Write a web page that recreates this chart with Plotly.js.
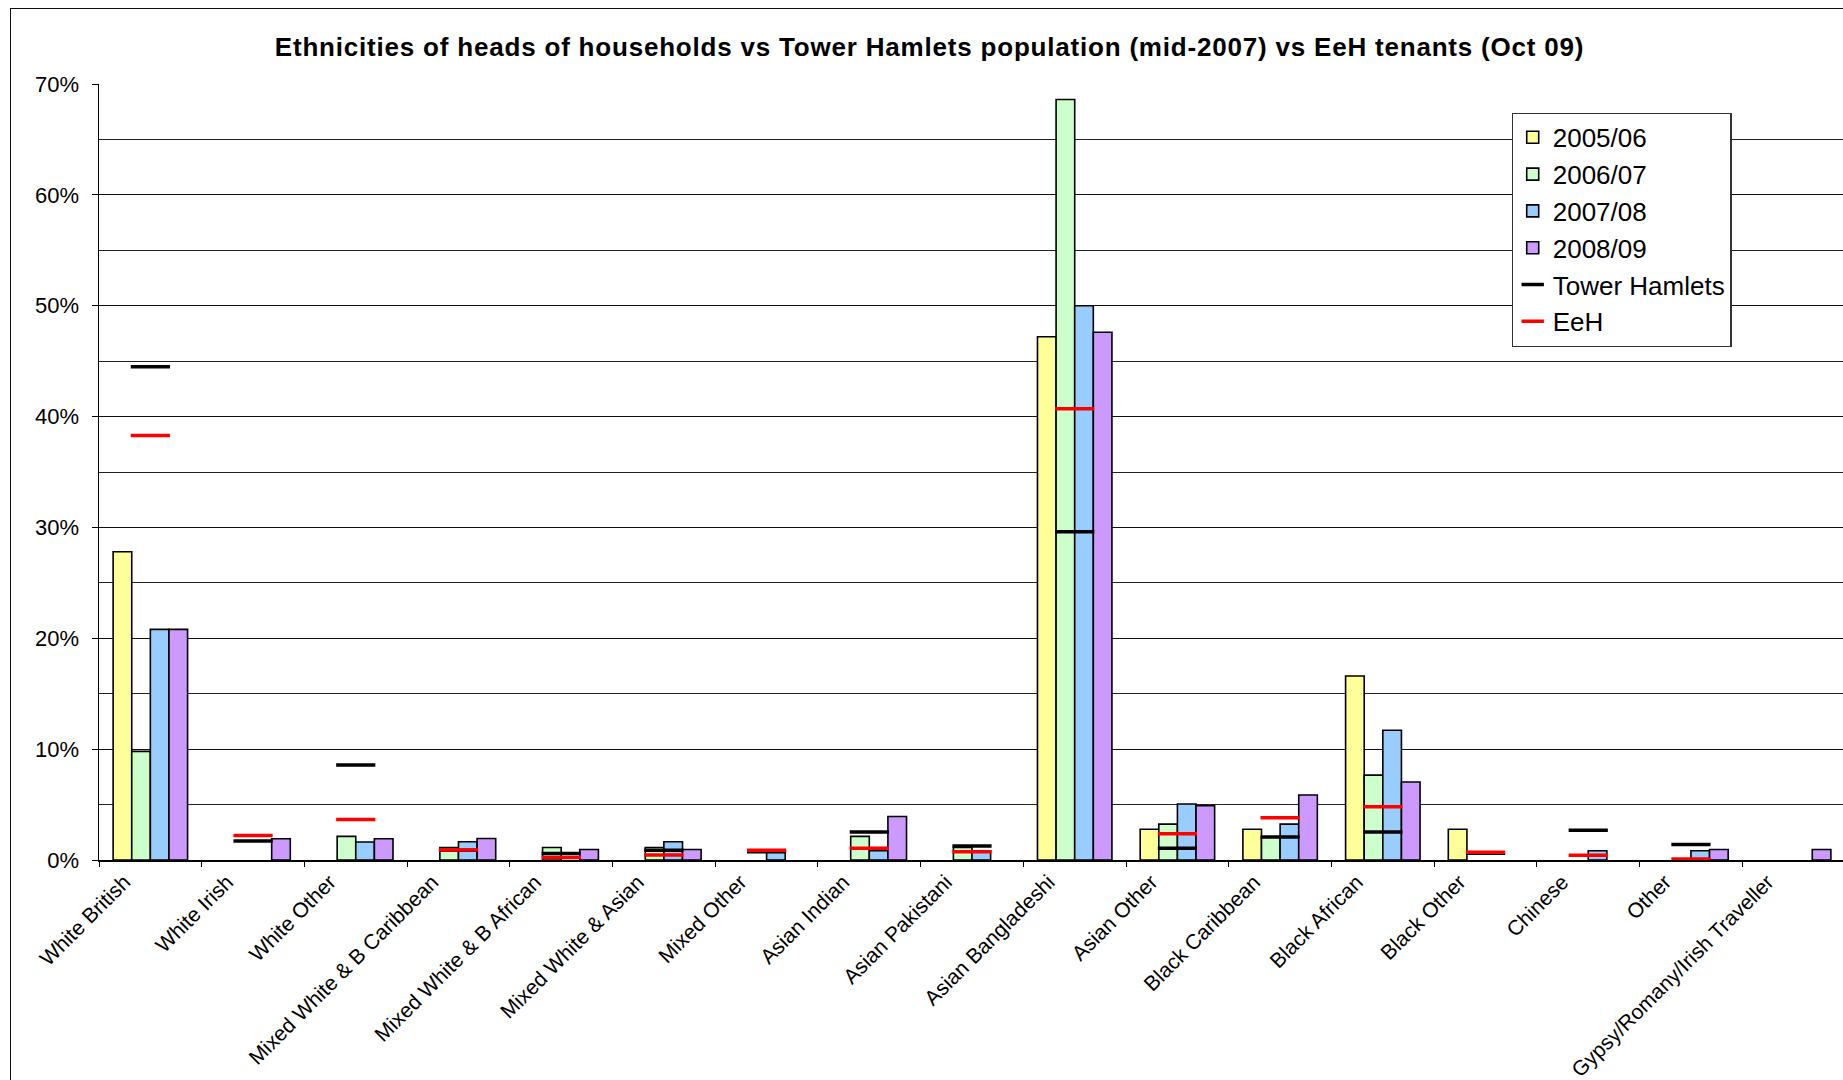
<!DOCTYPE html>
<html>
<head>
<meta charset="utf-8">
<script src="https://cdn.plot.ly/plotly-3.0.1.min.js"></script>
<style>
  html, body { margin: 0; padding: 0; background: #fff; overflow: hidden; width: 1843px; height: 1080px; }
  #wrap { position: absolute; left: 10px; top: 8px; width: 1900px; height: 1150px; border-left: 1.5px solid #111; border-top: 1.5px solid #111; box-sizing: border-box; }
  #chart { position: absolute; left: 0; top: 0; }
  #chart .gtitle { letter-spacing: 0.8px; }
</style>
</head>
<body>
<div id="wrap"><div id="chart"></div></div>
<script>
// Categories (x axis)
const categories = [
  "White British", "White Irish", "White Other", "Mixed White & B Caribbean",
  "Mixed White & B African", "Mixed White & Asian", "Mixed Other", "Asian Indian",
  "Asian Pakistani", "Asian Bangladeshi", "Asian Other", "Black Caribbean",
  "Black African", "Black Other", "Chinese", "Other", "Gypsy/Romany/Irish Traveller"
];

// Series values in percent (null = no bar)
const y2005_06 = [27.8, null, null, null, null, null, null, null, null, 47.2, 2.77, 2.77, 16.6, 2.78, null, null, null];
const y2006_07 = [9.8, null, 2.13, 1.13, 1.13, 1.13, null, 2.13, 1.13, 68.6, 3.24, 2.05, 7.66, null, null, null, null];
const y2007_08 = [20.8, null, 1.62, 1.64, null, 1.64, 0.83, 0.83, 0.83, 50.0, 5.05, 3.24, 11.7, null, 0.83, 0.83, null];
const y2008_09 = [20.8, 1.92, 1.92, 1.94, 0.95, 0.95, null, 3.93, null, 47.6, 4.9, 5.86, 7.03, null, null, 0.95, 0.95];
const towerHamlets = [44.5, 1.71, 8.56, 0.88, 0.59, 0.89, 0.75, 2.52, 1.26, 29.6, 1.05, 2.07, 2.52, 0.6, 2.69, 1.4, null];
const eeh = [38.3, 2.2, 3.66, 0.9, 0.23, 0.45, 0.87, 1.05, 0.75, 40.7, 2.37, 3.81, 4.8, 0.7, 0.43, 0.1, null];

const seriesNames = ["2005/06", "2006/07", "2007/08", "2008/09"];
const seriesValues = [y2005_06, y2006_07, y2007_08, y2008_09];
const seriesColors = ["#FFFF99", "#CCFFCC", "#99CCFF", "#CC99FF"];

const FONT = "Arial, 'Liberation Sans', sans-serif";

const traces = seriesNames.map((name, i) => ({
  type: "bar",
  name: name,
  x: categories,
  y: seriesValues[i],
  marker: { color: seriesColors[i], line: { color: "#000", width: 1.6 } },
  hoverinfo: "x+y+name"
}));

traces.push({
  type: "scatter", mode: "markers", name: "Tower Hamlets",
  x: categories, y: towerHamlets, cliponaxis: false,
  marker: { symbol: "line-ew", size: 28, color: "#000", line: { color: "#000", width: 3.5 } }
});
traces.push({
  type: "scatter", mode: "markers", name: "EeH",
  x: categories, y: eeh, cliponaxis: false,
  marker: { symbol: "line-ew", size: 28, color: "#FF0000", line: { color: "#FF0000", width: 3.5 } }
});

const layout = {
  width: 1874,
  height: 1100,
  margin: { l: 88, r: 40, t: 75, b: 249 },
  paper_bgcolor: "#fff",
  plot_bgcolor: "#fff",
  font: { family: FONT, color: "#000" },
  title: {
    text: "Ethnicities of heads of households vs Tower Hamlets population (mid-2007) vs EeH tenants (Oct 09)",
    font: { family: FONT, size: 26, weight: "bold", color: "#000" },
    xref: "paper", x: 0.4757, xanchor: "center",
    yref: "paper", y: 1.0395, yanchor: "middle"
  },
  barmode: "group",
  bargap: 0.275,
  bargroupgap: 0,
  showlegend: true,
  legend: {
    x: 0.809, y: 0.963, xanchor: "left", yanchor: "top",
    bgcolor: "#fff", bordercolor: "#333", borderwidth: 1.2,
    font: { family: FONT, size: 26, color: "#000" },
    traceorder: "normal",
    itemwidth: 30
  },
  xaxis: {
    type: "category",
    range: [-0.5, 16.5],
    autorange: false,
    tickangle: -45,
    tickson: "boundaries",
    ticks: "outside", ticklen: 5, tickcolor: "#000", tickwidth: 1,
    ticklabelshift: -26,
    ticklabelstandoff: 0,
    showline: true, linecolor: "#000", linewidth: 1.5,
    showgrid: false, zeroline: false,
    tickfont: { family: FONT, size: 21, color: "#000" },
    fixedrange: true
  },
  yaxis: {
    range: [0, 70],
    autorange: false,
    dtick: 10, tick0: 0,
    ticksuffix: "%",
    ticks: "outside", ticklen: 6, tickcolor: "#000", tickwidth: 1,
    ticklabelstandoff: 8,
    showline: true, linecolor: "#000", linewidth: 1.5,
    showgrid: true, gridcolor: "#111", gridwidth: 1,
    minor: { dtick: 5, showgrid: true, gridcolor: "#222", gridwidth: 1, ticks: "" },
    zeroline: false,
    tickfont: { family: FONT, size: 22, color: "#000" },
    fixedrange: true
  }
};

Plotly.newPlot("chart", traces, layout, { displayModeBar: false, staticPlot: true });
</script>
</body>
</html>
